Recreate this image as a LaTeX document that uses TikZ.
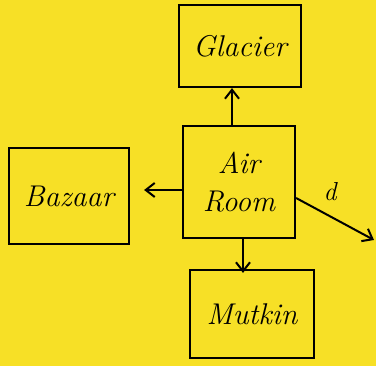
\documentclass[tikz,border=0pt]{standalone}
\usetikzlibrary{arrows.meta}
\definecolor{paper}{RGB}{247,224,38}
\tikzset{
  box/.style={draw=black, line width=2.2pt, rectangle, inner sep=0pt, font=\fontsize{30}{38}\selectfont\itshape, align=center},
  link/.style={draw=black, line width=2pt, -{Straight Barb[length=9pt,width=14pt,line width=2pt]}},
}
\begin{document}
\begin{tikzpicture}[x=1pt,y=-1pt]
\fill[paper] (0,0) rectangle (376,366);
\useasboundingbox (0,0) rectangle (376,366);
\node[box, minimum width=122pt, minimum height=82pt] (glacier) at (240,46) {Glacier};
\node[box, minimum width=112pt, minimum height=112pt] (air) at (239,182) {Air\\Room};
\node[box, minimum width=120pt, minimum height=96pt] (bazaar) at (69,196) {Bazaar};
\node[box, minimum width=124pt, minimum height=88pt] (meeting) at (252,314) {Mutkin};
\coordinate (dend) at (374,240);
\draw[link] ([xshift=-7pt]air.north) -- ([xshift=-8pt]glacier.south);
\draw[link, shorten >=14pt] ([yshift=-8pt]air.west) -- ([yshift=6pt]bazaar.east);
\draw[link] ([xshift=4pt]air.south) -- ([xshift=-9pt,yshift=-4pt]meeting.north);
\draw[link] ([yshift=-16pt]air.east) -- (dend);
\node[font=\fontsize{26}{30}\selectfont\itshape] (dlabel) at (330,192) {d};
\end{tikzpicture}
\end{document}
